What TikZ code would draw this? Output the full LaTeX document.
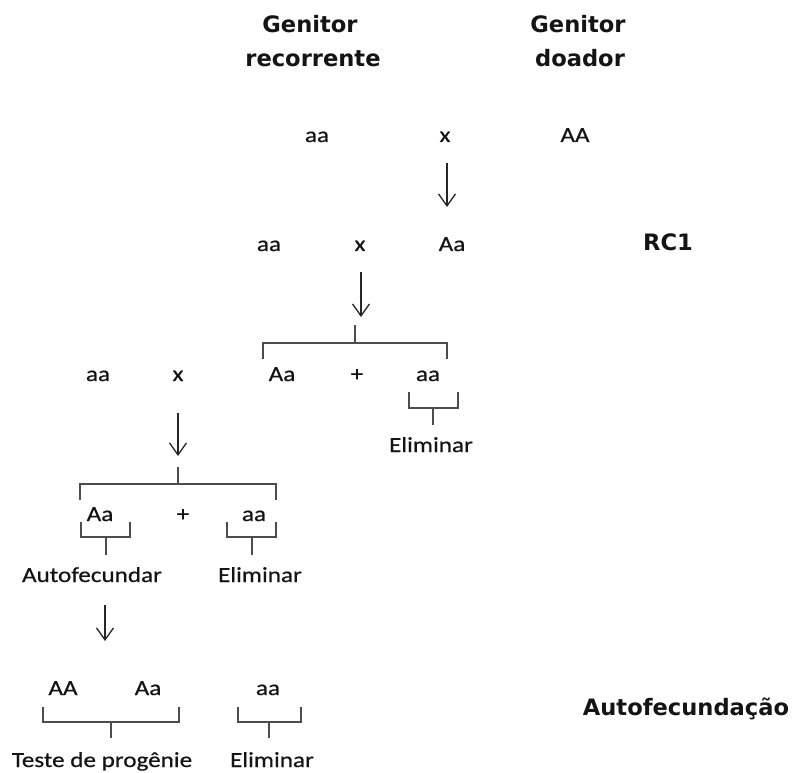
\documentclass[tikz,border=0pt]{standalone}
\usepackage{fontspec}
\setmainfont{Carlito}[FakeStretch=1.17,FakeBold=0.6]
\newfontfamily\headfont{DejaVu Sans Bold}
\usetikzlibrary{arrows.meta}

\begin{document}
\begin{tikzpicture}[x=1pt,y=-1pt,
  lbl/.style={font=\fontsize{21.5}{24}\selectfont, text=black!92, inner sep=0pt, anchor=base},
  head/.style={font=\headfont\fontsize{22.6}{26}\selectfont, text=black!92, inner sep=0pt, anchor=base},
  flow/.style={draw=black!85, line width=1.3pt, -{Straight Barb[length=12pt,width=17pt,line width=1.3pt]}},
  brk/.style={draw=black!70, line width=1.8pt}]
\useasboundingbox (0,0) rectangle (796,773);

% column headers
\node[head] (g1a) at (310,33) {Genitor};
\node[head] (g1b) at (313,67) {recorrente};
\node[head] (g2a) at (578,33) {Genitor};
\node[head] (g2b) at (580,67) {doador};

% first cross
\node[lbl] (p1) at (317,142) {aa};
\node[lbl] (x1) at (445,142) {x};
\node[lbl] (d1) at (575,142) {AA};
\coordinate (a1s) at (447,163);
\coordinate (a1e) at (447,207);
\draw[flow] (a1s) -- (a1e);

% backcross RC1
\node[lbl] (p2) at (269,251) {aa};
\node[lbl] (x2) at (360,251) {x};
\node[lbl] (f1) at (452,251) {Aa};
\node[head] (rc1) at (668,251) {RC1};
\coordinate (a2s) at (361,272);
\coordinate (a2e) at (361,317);
\draw[flow] (a2s) -- (a2e);

% progeny of RC1
\coordinate (b1t) at (355,325);
\coordinate (b1m) at (355,343);
\draw[brk] (b1t) -- (b1m);
\draw[brk] (263,359) -- (263,343) -- (447,343) -- (447,359);

\node[lbl] (p3) at (98,381) {aa};
\node[lbl] (x3) at (178,381) {x};
\node[lbl] (r1) at (282,381) {Aa};
\node[lbl] (plus1) at (357,381) {+};
\node[lbl] (r2) at (428,381) {aa};

\draw[brk] (409,392) -- (409,408) -- (458,408) -- (458,392);
\coordinate (e1t) at (433,408);
\coordinate (e1b) at (433,425);
\draw[brk] (e1t) -- (e1b);
\node[lbl] (el1) at (431,452) {Eliminar};

\coordinate (a3s) at (178,413);
\coordinate (a3e) at (178,456);
\draw[flow] (a3s) -- (a3e);

% progeny of the next backcross
\coordinate (b2t) at (178,467);
\coordinate (b2m) at (178,484);
\draw[brk] (b2t) -- (b2m);
\draw[brk] (80,500) -- (80,484) -- (276,484) -- (276,500);

\node[lbl] (s1) at (100,521) {Aa};
\node[lbl] (plus2) at (183,521) {+};
\node[lbl] (s2) at (254,521) {aa};

\draw[brk] (81,522) -- (81,537) -- (130,537) -- (130,522);
\coordinate (af1t) at (106,537);
\coordinate (af1b) at (106,555);
\draw[brk] (af1t) -- (af1b);
\draw[brk] (227,522) -- (227,537) -- (276,537) -- (276,522);
\coordinate (el2t) at (252,537);
\coordinate (el2b) at (252,555);
\draw[brk] (el2t) -- (el2b);

\node[lbl] (auto) at (92,582) {Autofecundar};
\node[lbl] (el2) at (260,582) {Eliminar};

\coordinate (a4s) at (105,605);
\coordinate (a4e) at (105,641);
\draw[flow] (a4s) -- (a4e);

% selfing generation
\node[lbl] (t1) at (63,695) {AA};
\node[lbl] (t2) at (148,695) {Aa};
\node[lbl] (t3) at (268,695) {aa};
\node[head] (selfing) at (686,715) {Autofecundação};

\draw[brk] (43,707) -- (43,722) -- (179,722) -- (179,707);
\coordinate (tp1t) at (111,722);
\coordinate (tp1b) at (111,738);
\draw[brk] (tp1t) -- (tp1b);
\draw[brk] (238,707) -- (238,722) -- (301,722) -- (301,707);
\coordinate (el3t) at (269,722);
\coordinate (el3b) at (269,738);
\draw[brk] (el3t) -- (el3b);

\node[lbl] (prog) at (102,767) {Teste de progênie};
\node[lbl] (el3) at (272,767) {Eliminar};
\end{tikzpicture}
\end{document}
